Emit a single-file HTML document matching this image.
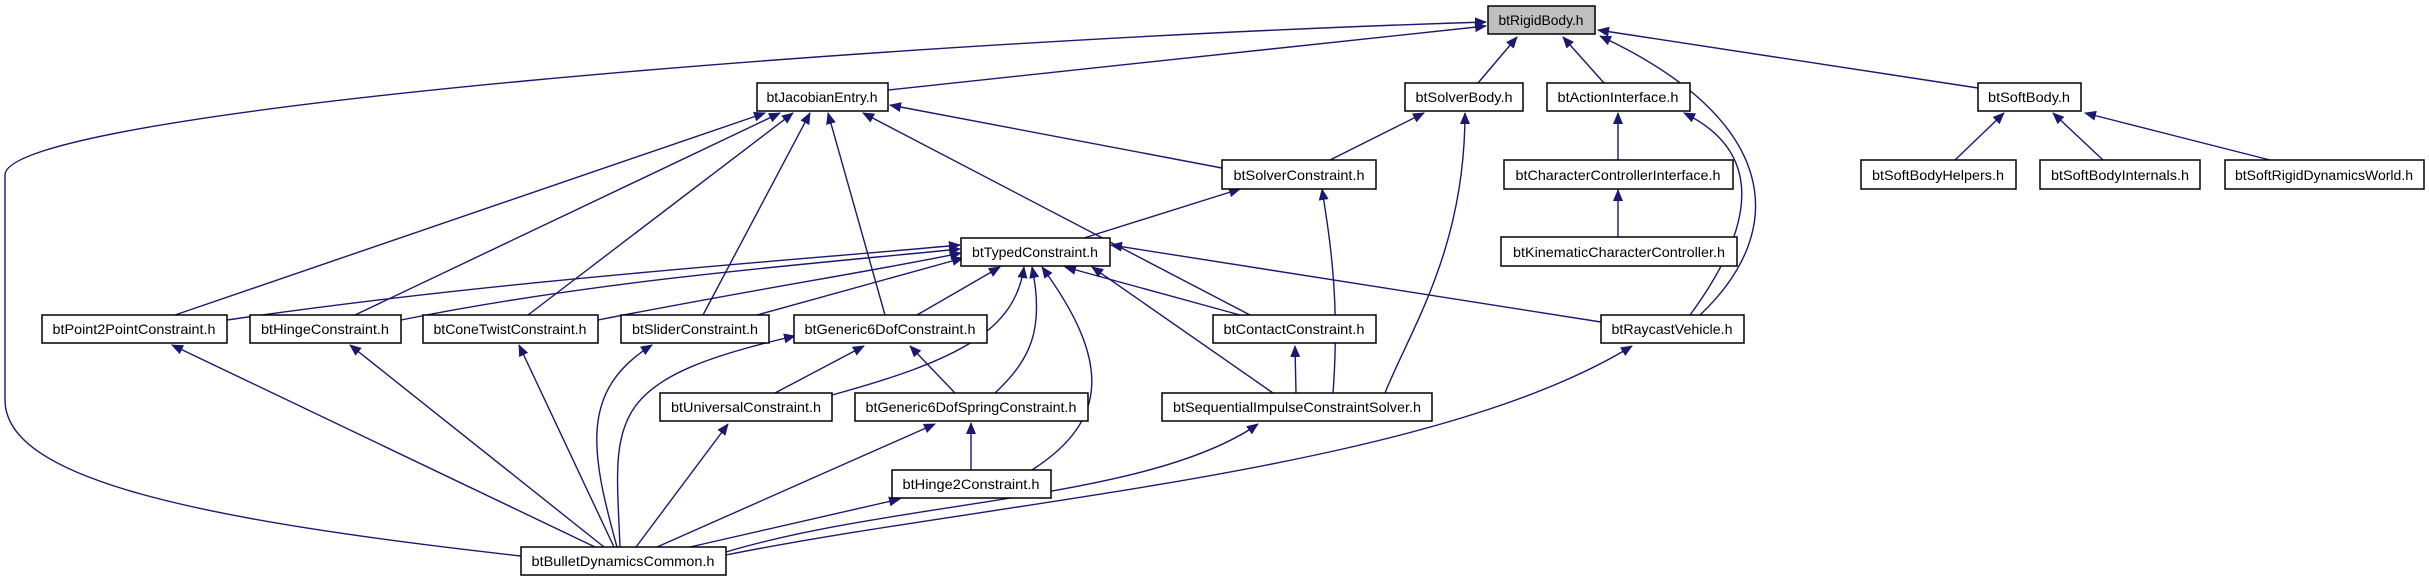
<!DOCTYPE html>
<html><head><meta charset="utf-8"><style>
html,body{margin:0;padding:0;background:#fff;width:2429px;height:581px;overflow:hidden}
text{font-family:"Liberation Sans","DejaVu Sans",sans-serif;font-size:14px;fill:#000}
</style></head><body>
<svg width="2429" height="581" viewBox="0 0 2429 581" xmlns="http://www.w3.org/2000/svg">
<defs>
<marker id="a" markerWidth="12" markerHeight="10" refX="11" refY="5" orient="auto" markerUnits="userSpaceOnUse">
<path d="M0,0 L12,5 L0,10 Z" fill="#191970"/></marker>
</defs>
<g fill="none" stroke="#191970" stroke-width="1.4" marker-end="url(#a)">
<!-- to RigidBody -->
<path d="M888,90 L1486,26"/>
<path d="M521,556 C200,520 5,480 5,400 L5,175 C5,110 900,40 1486,22"/>
<path d="M1478,83 L1517,37"/>
<path d="M1604,83 L1563,37"/>
<path d="M1700,315 C1790,230 1780,120 1600,36"/>
<path d="M1978,88 L1598,30"/>
<path d="M1690,315 C1760,220 1760,150 1684,113"/>
<!-- to JacobianEntry -->
<path d="M175,315 L765,113"/>
<path d="M355,315 L780,113"/>
<path d="M528,315 L793,113"/>
<path d="M703,315 L810,113"/>
<path d="M885,315 L828,113"/>
<path d="M1250,315 L863,113"/>
<path d="M1222,168 L890,105"/>
<!-- solver -->
<path d="M1084,238 L1240,189"/>
<path d="M1330,160 L1424,113"/>
<path d="M1385,393 C1410,330 1465,250 1465,113"/>
<path d="M1333,393 C1340,300 1330,240 1322,189"/>
<path d="M1296,393 L1295,346"/>
<!-- to TypedConstraint -->
<path d="M227,320 C500,280 800,260 960,245"/>
<path d="M401,320 C600,280 800,265 960,249"/>
<path d="M598,320 C750,290 880,270 961,253"/>
<path d="M757,315 L963,258"/>
<path d="M917,315 L1000,267"/>
<path d="M832,395 C960,360 1015,330 1024,267"/>
<path d="M995,393 C1030,360 1045,330 1032,267"/>
<path d="M1032,470 C1110,420 1110,360 1042,267"/>
<path d="M1240,315 L1065,267"/>
<path d="M1273,393 L1092,267"/>
<path d="M1601,322 L1111,245"/>
<!-- action / softbody -->
<path d="M1618,160 L1618,113"/>
<path d="M1618,237 L1618,190"/>
<path d="M1955,160 L2004,113"/>
<path d="M2103,160 L2053,113"/>
<path d="M2270,160 L2085,113"/>
<!-- Generic6Dof -->
<path d="M775,393 L864,346"/>
<path d="M955,393 L910,346"/>
<path d="M620,547 C615,420 600,380 795,336"/>
<path d="M971,470 L971,423"/>
<!-- to BulletDynamicsCommon sources -->
<path d="M595,547 L172,345"/>
<path d="M604,547 L350,345"/>
<path d="M614,547 L519,345"/>
<path d="M617,547 C590,450 580,390 652,345"/>
<path d="M636,547 L728,424"/>
<path d="M657,547 L935,424"/>
<path d="M690,547 L900,499"/>
<path d="M726,552 C900,500 1150,500 1258,424"/>
<path d="M726,555 C1000,500 1430,470 1632,346"/>
</g>
<g stroke="#000" stroke-width="1.5">
<rect x="1488" y="6" width="107" height="28" fill="#bfbfbf"/>
<rect x="757" y="83" width="131" height="28" fill="#fff"/>
<rect x="1405" y="83" width="118" height="28" fill="#fff"/>
<rect x="1547" y="83" width="143" height="28" fill="#fff"/>
<rect x="1978" y="83" width="103" height="28" fill="#fff"/>
<rect x="1222" y="160" width="154" height="29" fill="#fff"/>
<rect x="1504" y="160" width="229" height="29" fill="#fff"/>
<rect x="1861" y="160" width="155" height="29" fill="#fff"/>
<rect x="2040" y="160" width="160" height="29" fill="#fff"/>
<rect x="2225" y="160" width="199" height="29" fill="#fff"/>
<rect x="961" y="238" width="149" height="28" fill="#fff"/>
<rect x="1501" y="237" width="236" height="29" fill="#fff"/>
<rect x="42" y="315" width="185" height="28" fill="#fff"/>
<rect x="250" y="315" width="151" height="28" fill="#fff"/>
<rect x="423" y="315" width="175" height="28" fill="#fff"/>
<rect x="621" y="315" width="148" height="28" fill="#fff"/>
<rect x="794" y="315" width="193" height="28" fill="#fff"/>
<rect x="1213" y="315" width="163" height="28" fill="#fff"/>
<rect x="1601" y="315" width="143" height="28" fill="#fff"/>
<rect x="660" y="393" width="172" height="28" fill="#fff"/>
<rect x="855" y="393" width="233" height="28" fill="#fff"/>
<rect x="1162" y="393" width="270" height="28" fill="#fff"/>
<rect x="892" y="470" width="159" height="28" fill="#fff"/>
<rect x="521" y="547" width="205" height="28" fill="#fff"/>
</g>
<g text-anchor="middle" lengthAdjust="spacingAndGlyphs">
<text x="1541" y="25" textLength="85" lengthAdjust="spacingAndGlyphs">btRigidBody.h</text>
<text x="822" y="102" textLength="111" lengthAdjust="spacingAndGlyphs">btJacobianEntry.h</text>
<text x="1464" y="102" textLength="97" lengthAdjust="spacingAndGlyphs">btSolverBody.h</text>
<text x="1618" y="102" textLength="121" lengthAdjust="spacingAndGlyphs">btActionInterface.h</text>
<text x="2029" y="102" textLength="82" lengthAdjust="spacingAndGlyphs">btSoftBody.h</text>
<text x="1299" y="180" textLength="131" lengthAdjust="spacingAndGlyphs">btSolverConstraint.h</text>
<text x="1618" y="180" textLength="205" lengthAdjust="spacingAndGlyphs">btCharacterControllerInterface.h</text>
<text x="1938" y="180" textLength="132" lengthAdjust="spacingAndGlyphs">btSoftBodyHelpers.h</text>
<text x="2120" y="180" textLength="138" lengthAdjust="spacingAndGlyphs">btSoftBodyInternals.h</text>
<text x="2324" y="180" textLength="178" lengthAdjust="spacingAndGlyphs">btSoftRigidDynamicsWorld.h</text>
<text x="1035" y="257" textLength="126" lengthAdjust="spacingAndGlyphs">btTypedConstraint.h</text>
<text x="1619" y="257" textLength="212" lengthAdjust="spacingAndGlyphs">btKinematicCharacterController.h</text>
<text x="134" y="334" textLength="163" lengthAdjust="spacingAndGlyphs">btPoint2PointConstraint.h</text>
<text x="325" y="334" textLength="128" lengthAdjust="spacingAndGlyphs">btHingeConstraint.h</text>
<text x="510" y="334" textLength="153" lengthAdjust="spacingAndGlyphs">btConeTwistConstraint.h</text>
<text x="695" y="334" textLength="126" lengthAdjust="spacingAndGlyphs">btSliderConstraint.h</text>
<text x="890" y="334" textLength="171" lengthAdjust="spacingAndGlyphs">btGeneric6DofConstraint.h</text>
<text x="1294" y="334" textLength="141" lengthAdjust="spacingAndGlyphs">btContactConstraint.h</text>
<text x="1672" y="334" textLength="121" lengthAdjust="spacingAndGlyphs">btRaycastVehicle.h</text>
<text x="746" y="412" textLength="150" lengthAdjust="spacingAndGlyphs">btUniversalConstraint.h</text>
<text x="971" y="412" textLength="211" lengthAdjust="spacingAndGlyphs">btGeneric6DofSpringConstraint.h</text>
<text x="1297" y="412" textLength="248" lengthAdjust="spacingAndGlyphs">btSequentialImpulseConstraintSolver.h</text>
<text x="971" y="489" textLength="137" lengthAdjust="spacingAndGlyphs">btHinge2Constraint.h</text>
<text x="623" y="566" textLength="183" lengthAdjust="spacingAndGlyphs">btBulletDynamicsCommon.h</text>
</g>
</svg>
</body></html>
